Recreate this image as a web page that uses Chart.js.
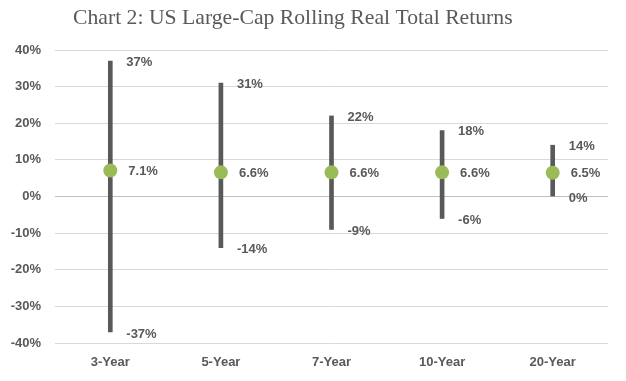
<!DOCTYPE html>
<html>
<head>
<meta charset="utf-8">
<script src="https://cdn.jsdelivr.net/npm/chart.js@4/dist/chart.umd.min.js"></script>
<style>
html,body{margin:0;padding:0;background:#fff;}
#wrap{width:626px;height:381px;}
</style>
</head>
<body>
<div id="wrap"><canvas id="c" width="626" height="381"></canvas></div>
<script>
const categories = ['3-Year', '5-Year', '7-Year', '10-Year', '20-Year'];
const lows = [-37, -14, -9, -6, 0];
const highs = [37, 31, 22, 18, 14];
const medians = [7.1, 6.6, 6.6, 6.6, 6.5];
const yTicks = [-40, -30, -20, -10, 0, 10, 20, 30, 40];
const titleText = 'Chart 2: US Large-Cap Rolling Real Total Returns';

const GRAY = '#595959';
const GREEN = '#9BBB59';
const LABEL_FONT = 'bold 13px "Liberation Sans", Arial, sans-serif';

const labelPlugin = {
  id: 'rangeLabels',
  afterDatasetsDraw(chart) {
    const ctx = chart.ctx;
    const xs = chart.scales.x, ys = chart.scales.y;
    ctx.save();
    ctx.font = LABEL_FONT;
    ctx.fillStyle = GRAY;
    ctx.textAlign = 'left';
    ctx.textBaseline = 'middle';
    categories.forEach((c, i) => {
      const x = xs.getPixelForValue(i) + 16;
      ctx.fillText(highs[i] + '%', x, ys.getPixelForValue(highs[i]) + 1);
      ctx.fillText(lows[i] + '%', x, ys.getPixelForValue(lows[i]) + 2);
      ctx.fillText(medians[i].toFixed(1) + '%', x + 2, ys.getPixelForValue(medians[i]) + 1);
    });
    ctx.restore();
  }
};

const titlePlugin = {
  id: 'leftTitle',
  afterDraw(chart) {
    const ctx = chart.ctx;
    ctx.save();
    ctx.font = '21.7px "Liberation Serif", "DejaVu Serif", serif';
    ctx.fillStyle = GRAY;
    ctx.textAlign = 'left';
    ctx.textBaseline = 'middle';
    ctx.fillText(titleText, 73, 18);
    ctx.restore();
  }
};

new Chart(document.getElementById('c'), {
  type: 'bar',
  data: {
    labels: categories,
    datasets: [
      {
        type: 'line',
        data: medians,
        showLine: false,
        pointRadius: 7,
        pointHoverRadius: 7,
        pointBackgroundColor: GREEN,
        pointBorderWidth: 0,
        borderColor: GREEN,
        order: 1
      },
      {
        type: 'bar',
        data: categories.map((c, i) => [lows[i], highs[i]]),
        backgroundColor: GRAY,
        borderWidth: 0,
        barThickness: 4,
        grouped: false,
        order: 2
      }
    ]
  },
  options: {
    responsive: false,
    animation: false,
    layout: { padding: { top: 50, right: 18, left: 0, bottom: 0 } },
    plugins: {
      legend: { display: false },
      tooltip: { enabled: false },
      title: { display: false }
    },
    scales: {
      x: {
        offset: true,
        afterFit(scale) { scale.height = 38; },
        grid: { display: false, drawTicks: false },
        border: { display: false },
        ticks: {
          color: GRAY,
          font: { family: '"Liberation Sans", Arial, sans-serif', size: 13, weight: 'bold' },
          padding: 12
        }
      },
      y: {
        min: -40,
        max: 40,
        afterBuildTicks(scale) { scale.ticks = yTicks.map(v => ({ value: v })); },
        afterFit(scale) { scale.width = 55; },
        grid: {
          color: (ctx) => (ctx.tick && ctx.tick.value === 0 ? '#bfbfbf' : '#d9d9d9'),
          drawTicks: false,
          lineWidth: 1
        },
        border: { display: false },
        ticks: {
          color: GRAY,
          font: { family: '"Liberation Sans", Arial, sans-serif', size: 13, weight: 'bold' },
          padding: 14,
          callback: (v) => v + '%'
        }
      }
    }
  },
  plugins: [labelPlugin, titlePlugin]
});
</script>
</body>
</html>
